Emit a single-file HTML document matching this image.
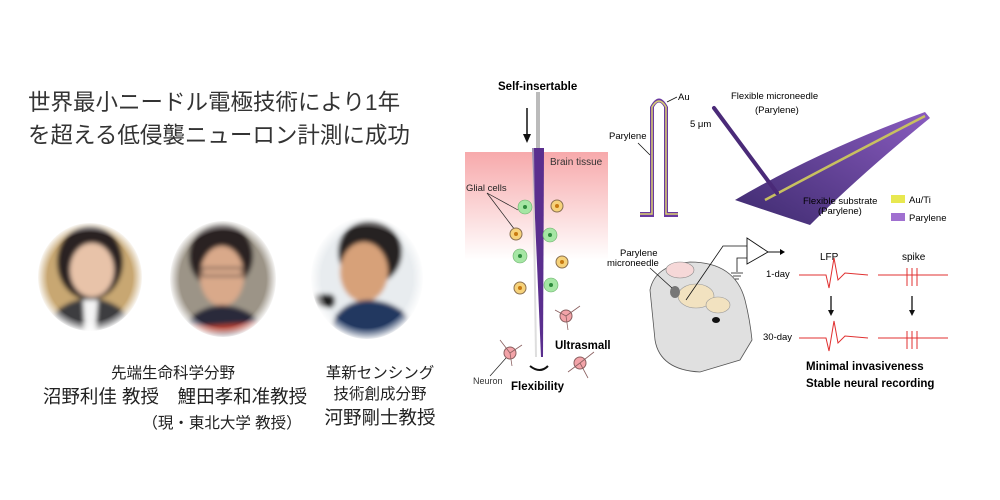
<!DOCTYPE html>
<html><head><meta charset="utf-8"><style>
body{margin:0;width:1000px;height:500px;background:#fff;overflow:hidden;position:relative;font-family:"Liberation Sans","Noto Sans CJK JP",sans-serif}
.t{position:absolute;white-space:nowrap;color:#222}
</style></head><body>
<div class="t" style="left:28px;top:86px;font-size:22.5px;line-height:33px;color:#333">世界最小ニードル電極技術により1年<br>を超える低侵襲ニューロン計測に成功</div>
<svg width="1000" height="500" style="position:absolute;left:0;top:0" font-family="Liberation Sans, Noto Sans CJK JP, sans-serif">
<defs>
<radialGradient id="v1"><stop offset="0.8" stop-color="#fff" stop-opacity="0"/><stop offset="1" stop-color="#fff"/></radialGradient>
<linearGradient id="pink" x1="0" y1="0" x2="0" y2="1"><stop offset="0" stop-color="#f7a9ab"/><stop offset="1" stop-color="#fff"/></linearGradient>
<linearGradient id="sub" x1="0" y1="1" x2="1" y2="0"><stop offset="0" stop-color="#3d2a6e"/><stop offset="1" stop-color="#8a5cc0"/></linearGradient>
<filter id="bl"><feGaussianBlur stdDeviation="2.5"/></filter>
<clipPath id="c1"><ellipse cx="90" cy="277" rx="52" ry="54"/></clipPath>
<clipPath id="c2"><ellipse cx="223" cy="279" rx="53" ry="58"/></clipPath>
<clipPath id="c3"><ellipse cx="367" cy="278" rx="56" ry="61"/></clipPath>
</defs>
<!-- photo 1 -->
<g clip-path="url(#c1)"><g filter="url(#bl)">
<rect x="30" y="220" width="130" height="120" fill="#c8a772"/>
<ellipse cx="90" cy="262" rx="33" ry="38" fill="#2a2020"/>
<ellipse cx="92" cy="270" rx="22" ry="27" fill="#e8c3a9"/>
<path d="M40 335 Q55 300 90 298 Q125 300 140 335Z" fill="#3c3c40"/>
<path d="M83 300 L98 300 L95 335 L85 335Z" fill="#f4f4f4"/>
</g></g>
<!-- photo 2 -->
<g clip-path="url(#c2)"><g filter="url(#bl)">
<rect x="165" y="215" width="120" height="130" fill="#9c9487"/>
<ellipse cx="221" cy="256" rx="32" ry="34" fill="#2a2220"/>
<ellipse cx="222" cy="276" rx="22" ry="30" fill="#d9a98a"/>
<rect x="202" y="268" width="40" height="8" fill="none" stroke="#333" stroke-width="1.5"/>
<path d="M175 345 Q185 308 222 305 Q262 308 272 345Z" fill="#2b2a3a"/>
<path d="M185 327 L265 322 L266 330 L185 336Z" fill="#b04030"/>
</g></g>
<!-- photo 3 -->
<g clip-path="url(#c3)"><g filter="url(#bl)">
<rect x="305" y="215" width="125" height="130" fill="#e8ecef"/>
<ellipse cx="370" cy="252" rx="32" ry="33" fill="#252020"/>
<ellipse cx="364" cy="272" rx="24" ry="30" fill="#d7a179"/>
<path d="M325 345 Q332 300 370 300 Q410 302 425 345Z" fill="#203860"/>
<rect x="310" y="294" width="25" height="14" rx="6" fill="#222"/>
</g></g>
<ellipse cx="90" cy="277" rx="53" ry="55" fill="url(#v1)"/>
<ellipse cx="223" cy="279" rx="54" ry="59" fill="url(#v1)"/>
<ellipse cx="367" cy="278" rx="57" ry="62" fill="url(#v1)"/>

<!-- captions -->
<g fill="#222" text-anchor="middle">
<text x="173" y="378" font-size="15.5">先端生命科学分野</text>
<text x="175" y="403" font-size="18.5">沼野利佳 教授　鯉田孝和准教授</text>
<text x="222" y="428" font-size="15.5">（現・東北大学 教授）</text>
<text x="380" y="378" font-size="15.5">革新センシング</text>
<text x="380" y="399" font-size="15.5">技術創成分野</text>
<text x="380" y="424" font-size="18.5">河野剛士教授</text>
</g>

<!-- brain tissue panel -->
<rect x="465" y="152" width="143" height="108" fill="url(#pink)"/>
<text x="498" y="90" font-size="11.5" font-weight="bold">Self-insertable</text>
<rect x="536" y="92" width="4" height="56" fill="#bbb"/>
<line x1="527" y1="108" x2="527" y2="138" stroke="#111" stroke-width="1.5"/>
<path d="M523 134 L527 143 L531 134Z" fill="#111"/>
<path d="M532 148 L544 148 L543 357 L541 357Z" fill="#5a2e8e"/>
<path d="M532 148 L534 148 L537 357 L535 357Z" fill="#c8c8c8" opacity="0.6"/>
<text x="550" y="165" font-size="10" fill="#333">Brain tissue</text>
<text x="466" y="191" font-size="9.5" fill="#222">Glial cells</text>
<line x1="487" y1="193" x2="518" y2="210" stroke="#222" stroke-width="0.7"/>
<line x1="487" y1="193" x2="515" y2="230" stroke="#222" stroke-width="0.7"/>
<g fill="#a5e6a4" stroke="#6ab06a" stroke-width="0.6">
<circle cx="525" cy="207" r="7"/><circle cx="550" cy="235" r="7"/><circle cx="520" cy="256" r="7"/><circle cx="551" cy="285" r="7"/></g>
<g fill="#2d8b3c"><circle cx="525" cy="207" r="2"/><circle cx="550" cy="235" r="2"/><circle cx="520" cy="256" r="2"/><circle cx="551" cy="285" r="2"/></g>
<g stroke="#8a7050" stroke-width="1" fill="#f6d27a">
<circle cx="557" cy="206" r="6"/><circle cx="516" cy="234" r="6"/><circle cx="562" cy="262" r="6"/><circle cx="520" cy="288" r="6"/></g>
<g fill="#c87a10"><circle cx="557" cy="206" r="2"/><circle cx="516" cy="234" r="2"/><circle cx="562" cy="262" r="2"/><circle cx="520" cy="288" r="2"/></g>
<g stroke="#8a6060" stroke-width="1" fill="#f3a3a8">
<circle cx="566" cy="316" r="6"/><circle cx="510" cy="353" r="6"/><circle cx="580" cy="363" r="6"/></g>
<g stroke="#8a6060" stroke-width="0.8"><path d="M566 316 L580 306 M566 316 L555 310 M566 316 L568 330 M510 353 L500 340 M510 353 L522 345 M510 353 L512 366 M580 363 L594 352 M580 363 L568 372 M580 363 L588 378"/></g>
<text x="555" y="349" font-size="11.5" font-weight="bold">Ultrasmall</text>
<text x="473" y="384" font-size="9" fill="#333">Neuron</text>
<line x1="490" y1="376" x2="506" y2="358" stroke="#222" stroke-width="0.7"/>
<text x="511" y="390" font-size="11.5" font-weight="bold">Flexibility</text>
<path d="M530 366 Q540 374 548 366" stroke="#111" stroke-width="2" fill="none"/>

<!-- needle cross section -->
<path d="M640 217 L654 217 L654 107 Q659 98 664 107 L664 217 L678 217 L678 212 L668 212 L668 107 Q659 90 650 107 L650 212 L640 212Z" fill="#6a3aa0"/>
<path d="M640 214 L652 214 L652 107 Q659 95 666 107 L666 214 L678 214" stroke="#d9d070" stroke-width="1.5" fill="none"/>
<text x="678" y="100" font-size="9.5">Au</text>
<line x1="677" y1="97" x2="667" y2="102" stroke="#111" stroke-width="0.8"/>
<text x="609" y="139" font-size="9.5">Parylene</text>
<line x1="638" y1="143" x2="650" y2="155" stroke="#111" stroke-width="0.8"/>
<!-- substrate -->
<path d="M735 200 Q820 150 925 112 L930 118 Q860 175 810 225 Q770 212 735 200Z" fill="url(#sub)"/>
<path d="M765 200 Q840 160 925 116" stroke="#c8c060" stroke-width="2.5" fill="none"/>
<line x1="714" y1="108" x2="777" y2="193" stroke="#4a2a78" stroke-width="4" stroke-linecap="round"/>
<text x="731" y="99" font-size="9.5">Flexible microneedle</text>
<text x="755" y="113" font-size="9.5">(Parylene)</text>
<text x="690" y="127" font-size="9.5">5 μm</text>
<text x="803" y="204" font-size="9.5">Flexible substrate</text>
<text x="818" y="214" font-size="9.5">(Parylene)</text>
<rect x="891" y="195" width="14" height="8" fill="#e8e850"/>
<text x="909" y="203" font-size="9.5">Au/Ti</text>
<rect x="891" y="213" width="14" height="8" fill="#a070d0"/>
<text x="909" y="221" font-size="9.5">Parylene</text>

<!-- rat -->
<path d="M650 290 Q655 265 690 262 Q735 262 745 300 Q750 320 752 340 L740 360 L700 372 Q660 370 655 340Z" fill="#e0e0e0" stroke="#555" stroke-width="0.8"/>
<ellipse cx="680" cy="270" rx="14" ry="8" fill="#f6d8d8" stroke="#888" stroke-width="0.6"/>
<ellipse cx="696" cy="296" rx="18" ry="12" fill="#f2e2c0" stroke="#999" stroke-width="0.6"/>
<ellipse cx="718" cy="305" rx="12" ry="8" fill="#f2e2c0" stroke="#999" stroke-width="0.6"/>
<ellipse cx="675" cy="292" rx="5" ry="6" fill="#777"/>
<ellipse cx="716" cy="320" rx="4" ry="3" fill="#111"/>
<text x="620" y="256" font-size="9.5">Parylene</text>
<text x="607" y="266" font-size="9.5">microneedle</text>
<line x1="650" y1="268" x2="672" y2="288" stroke="#111" stroke-width="0.7"/>
<path d="M686 300 L723 246 L747 246" stroke="#111" stroke-width="0.8" fill="none"/>
<path d="M747 238 L768 252 L747 264Z" fill="#fff" stroke="#111" stroke-width="0.9"/>
<line x1="768" y1="252" x2="780" y2="252" stroke="#111"/><path d="M780 249 L785 252 L780 255Z"/>
<path d="M747 258 L737 258 L737 272" stroke="#111" stroke-width="0.8" fill="none"/>
<path d="M731 273 L743 273 M733 276 L741 276 M735 279 L739 279" stroke="#111" stroke-width="0.8"/>
<!-- signals -->
<text x="820" y="260" font-size="10">LFP</text>
<text x="902" y="260" font-size="10">spike</text>
<text x="766" y="277" font-size="9.5">1-day</text>
<text x="763" y="340" font-size="9.5">30-day</text>
<g stroke="#e03030" stroke-width="1" fill="none">
<path d="M799 275 L826 275 L829 288 L834 258 L838 280 L845 273 L868 275"/>
<path d="M878 275 L948 275 M907 268 V286 M912 268 V286 M917 268 V286"/>
<path d="M799 338 L826 338 L829 351 L834 321 L838 343 L845 336 L868 338"/>
<path d="M878 338 L948 338 M907 331 V349 M912 331 V349 M917 331 V349"/>
</g>
<g stroke="#111" stroke-width="1.3"><line x1="831" y1="296" x2="831" y2="312"/><line x1="912" y1="296" x2="912" y2="312"/></g>
<path d="M828 310 L831 316 L834 310Z M909 310 L912 316 L915 310Z" fill="#111"/>
<text x="806" y="370" font-size="11.5" font-weight="bold">Minimal invasiveness</text>
<text x="806" y="387" font-size="11.5" font-weight="bold">Stable neural recording</text>
</svg>
</body></html>
